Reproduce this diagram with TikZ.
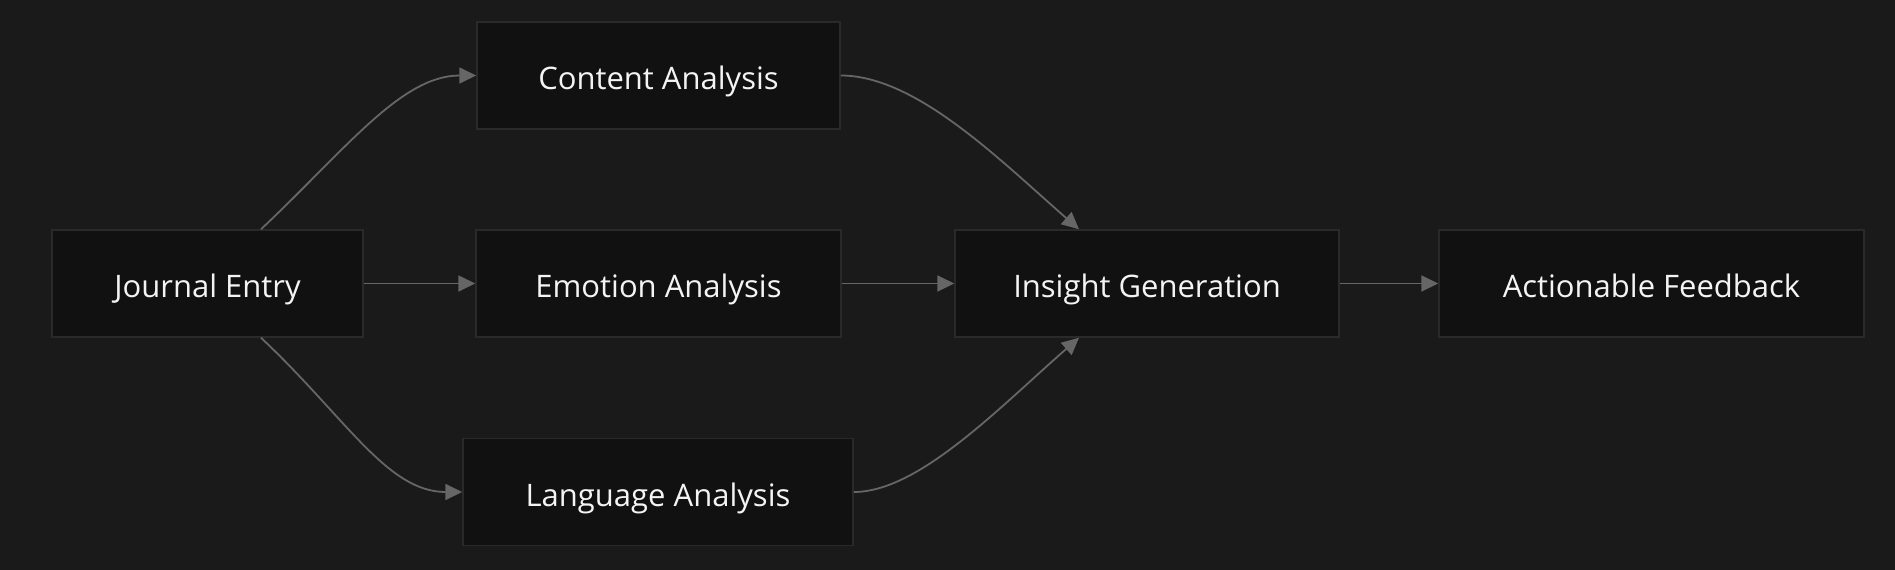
\documentclass[tikz,border=0pt]{standalone}
\usepackage{fontspec}
\setmainfont{Open Sans}
\usetikzlibrary{arrows.meta}
\definecolor{bg}{HTML}{1A1A1A}
\definecolor{nodefill}{HTML}{111111}
\definecolor{nodeedge}{HTML}{2A2A2A}
\definecolor{edgecol}{HTML}{666666}
\definecolor{txt}{HTML}{F4F4F4}
\begin{document}
\begin{tikzpicture}[x=1pt,y=-1pt,
  box/.style={draw=nodeedge,line width=1.5pt,fill=nodefill,text=txt,inner sep=0pt,
    font=\fontsize{31}{36}\selectfont,minimum height=107pt,text height=28pt,text depth=0pt},
  conn/.style={draw=edgecol,line width=1.8pt,-{Triangle[length=17pt,width=16pt]}}]
\fill[bg] (0,0) rectangle (1895,570);
\useasboundingbox (0,0) rectangle (1895,570);
\node[box,minimum width=311pt] (je) at (207.5,283.5) {Journal Entry};
\node[box,minimum width=363pt] (ca) at (658.5,75.5) {Content Analysis};
\node[box,minimum width=365pt] (ea) at (658.5,283.5) {Emotion Analysis};
\node[box,minimum width=390pt] (la) at (658,492) {Language Analysis};
\node[box,minimum width=384pt] (ig) at (1147,283.5) {Insight Generation};
\node[box,minimum width=425pt] (af) at (1651.5,283.5) {Actionable Feedback};
\draw[conn] ([xshift=53.5pt]je.north) .. controls +(85,-80) and +(-75,0) .. (ca.west);
\draw[conn] ([xshift=53.5pt]je.south) .. controls +(85,80) and +(-75,0) .. (la.west);
\draw[conn] (je.east) -- (ea.west);
\draw[conn] (ca.east) .. controls +(75,0) and +(-80,-70) .. ([xshift=-68pt]ig.north);
\draw[conn] (la.east) .. controls +(65,0) and +(-80,70) .. ([xshift=-68pt]ig.south);
\draw[conn] (ea.east) -- (ig.west);
\draw[conn] (ig.east) -- (af.west);
\end{tikzpicture}
\end{document}
